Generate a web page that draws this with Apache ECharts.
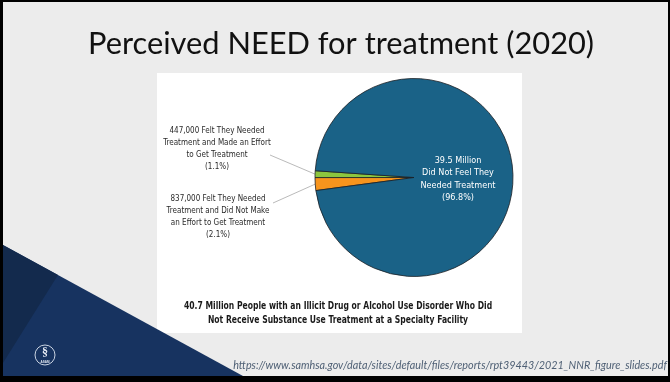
<!DOCTYPE html>
<html>
<head>
<meta charset="utf-8">
<script src="https://cdn.jsdelivr.net/npm/echarts@6/dist/echarts.min.js"></script>
<style>
html,body{margin:0;padding:0;background:#000;}
#main{width:670px;height:382px;}
</style>
</head>
<body>
<div id="main"></div>
<script>
// ---- data ----
const slideTitle = 'Perceived NEED for treatment (2020)';
const categories = [
  'Felt They Needed Treatment and Did Not Make an Effort to Get Treatment',
  'Felt They Needed Treatment and Made an Effort to Get Treatment',
  'Did Not Feel They Needed Treatment'
];
const counts = ['837,000', '447,000', '39.5 Million'];
const percents = [2.1, 1.1, 96.8];
const labelTexts = [
  '837,000 Felt They Needed\nTreatment and Did Not Make\nan Effort to Get Treatment\n(2.1%)',
  '447,000 Felt They Needed\nTreatment and Made an Effort\nto Get Treatment\n(1.1%)',
  '39.5 Million\nDid Not Feel They\nNeeded Treatment\n(96.8%)'
];
const sliceColors = ['#f7941d', '#8cc63f', '#1a6287'];
const captionLines = [
  '40.7 Million People with an Illicit Drug or Alcohol Use Disorder Who Did',
  'Not Receive Substance Use Treatment at a Specialty Facility'
];
const sourceUrl = 'https://www.samhsa.gov/data/sites/default/files/reports/rpt39443/2021_NNR_figure_slides.pdf';

// ---- layout (styles/positions) ----
const narrow = "'Liberation Sans Narrow','Arial Narrow','DejaVu Sans Condensed',sans-serif";
const labelPos = [
  {x: 218, y: 217, end: [273, 203]},
  {x: 217, y: 149, end: [270, 155]},
  {x: 458, y: 179}
];

const chart = echarts.init(document.getElementById('main'), null, {renderer: 'canvas'});

const pieData = percents.map((v, i) => ({
  name: categories[i],
  value: v,
  itemStyle: {color: sliceColors[i]},
  label: i === 2 ? {color: '#ffffff', fontSize: 9, lineHeight: 12.5} : {}
}));

const option = {
  animation: false,
  backgroundColor: '#000000',
  graphic: [
    {type: 'rect', z: -10, shape: {x: 3, y: 2, width: 665, height: 374}, style: {fill: '#ececec'}},
    {type: 'rect', z: -9, shape: {x: 157, y: 73, width: 365, height: 260}, style: {fill: '#ffffff'}},
    {type: 'polygon', z: 5, shape: {points: [[3, 245], [243, 376], [3, 376]]}, style: {fill: '#173360'}},
    {type: 'polygon', z: 6, shape: {points: [[3, 245], [58, 275], [3, 363]]}, style: {fill: '#132a4d'}},
    {type: 'circle', z: 7, shape: {cx: 45, cy: 355, r: 10}, style: {fill: 'none', stroke: '#c9d3e2', lineWidth: 1}},
    {type: 'text', z: 7, style: {text: '§', x: 45, y: 353, fill: '#e6ecf5', font: 'bold 12px serif', textAlign: 'center', textVerticalAlign: 'middle'}},
    {type: 'text', z: 7, style: {text: 'ASAM', x: 45, y: 362, fill: '#e6ecf5', font: 'bold 3px sans-serif', textAlign: 'center', textVerticalAlign: 'middle'}},
    {type: 'text', z: 3, x: 338, y: 313, scaleX: 0.81, style: {text: captionLines.join('\n'), x: 0, y: 0, fill: '#1a1a1a', font: 'bold 10.5px ' + narrow, lineHeight: 14, textAlign: 'center', textVerticalAlign: 'middle'}},
    {type: 'text', z: 8, style: {text: sourceUrl, x: 667, y: 366, fill: '#4f6075', font: 'italic 10.8px Lato', textAlign: 'right', textVerticalAlign: 'middle'}}
  ],
  title: {
    text: slideTitle,
    left: 83,
    top: 24,
    textStyle: {fontFamily: 'Lato', fontWeight: 'normal', fontSize: 30.8, color: '#111111'}
  },
  series: [{
    type: 'pie',
    center: [414, 177.5],
    radius: 99,
    startAngle: 187.6,
    clockwise: true,
    silent: true,
    itemStyle: {borderColor: '#1c1f24', borderWidth: 0.8},
    emphasis: {disabled: true},
    label: {
      show: true,
      position: 'outside',
      formatter: (p) => labelTexts[p.dataIndex],
      fontFamily: narrow,
      fontSize: 8,
      lineHeight: 12,
      color: '#2a2a2a',
      align: 'center'
    },
    labelLine: {show: true, length: 10, length2: 10, lineStyle: {color: '#a8a8a8', width: 0.8}},
    labelLayout: function (params) {
      const lp = labelPos[params.dataIndex];
      const res = {x: lp.x, y: lp.y, align: 'center', verticalAlign: 'middle'};
      if (lp.end && params.labelLinePoints) {
        res.labelLinePoints = [params.labelLinePoints[0], lp.end];
      }
      return res;
    },
    data: pieData
  }]
};
// inner label for large slice: hide its line
option.series[0].data[2].labelLine = {show: false};
chart.setOption(option);
</script>
</body>
</html>
